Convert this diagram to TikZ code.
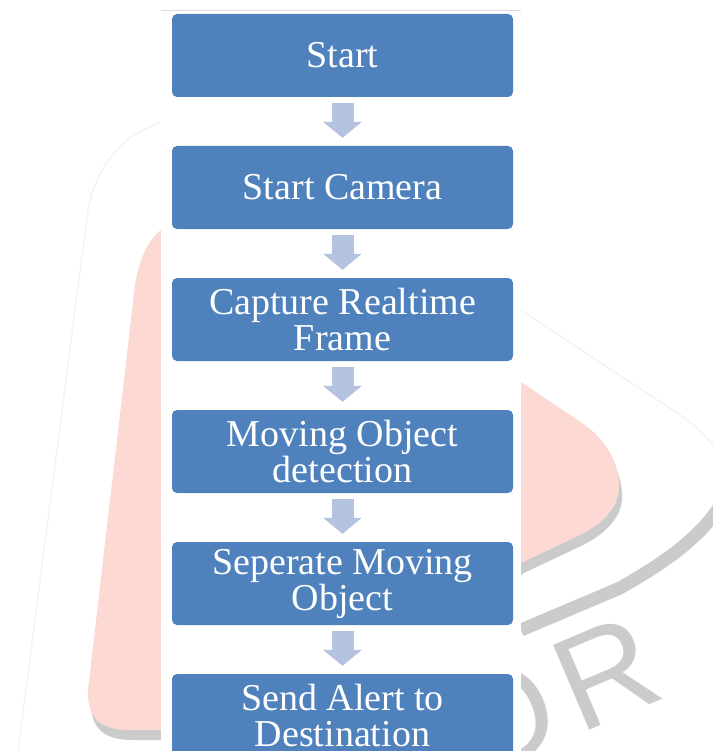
\documentclass[tikz,border=0pt]{standalone}
\usepackage{fontspec}
\setmainfont{Liberation Serif}
\newfontfamily\wmfont{Liberation Sans}
\usepackage{xcolor}
\usetikzlibrary{positioning, arrows.meta}

\definecolor{boxblue}{RGB}{79,129,189}
\definecolor{arrowblue}{RGB}{180,195,223}
\definecolor{wmpink}{RGB}{252,218,211}
\definecolor{wmgray}{RGB}{203,203,203}
\definecolor{wmfaint}{RGB}{241,241,241}

\begin{document}
\begin{tikzpicture}[
    x=1pt, y=-1pt,
    node distance=48.6pt,
    process/.style={
        rectangle, rounded corners=5pt,
        fill=boxblue, text=white,
        minimum width=341pt, minimum height=83pt,
        inner sep=0pt, align=center,
        font=\fontsize{38pt}{36pt}\selectfont
    },
    flow/.style={
        draw=arrowblue, line width=22pt,
        -{Triangle[length=16pt, width=38pt]}
    },
    watermark/.style={text=wmgray, font=\wmfont\fontsize{134pt}{134pt}\selectfont},
]
\useasboundingbox (0,0) rectangle (712,751);

% ---------- Watermark (behind the panel) ----------
\draw[wmfaint, line width=1.2pt] (160,123) .. controls (120,135) and (95,170) .. (88,210) -- (18,751);
\draw[wmfaint, line width=1.2pt] (521,310) -- (680,415) .. controls (705,432) and (715,445) .. (718,460);
\draw[wmgray, line width=13pt] (724,500) .. controls (700,540) and (660,565) .. (620,588) -- (521,630);

\fill[wmgray, shift={(3pt,-10pt)}] (521,382) -- (300,229) -- (162,229) .. controls (145,242) and (136,267) .. (133,302)
    -- (88,690) .. controls (87,718) and (100,730) .. (130,730) -- (300,730) -- (521,563)
    -- (580,535) .. controls (600,525) and (617,510) .. (619,490) .. controls (620,470) and (612,445) .. (585,425) -- cycle;
\fill[wmpink] (521,382) -- (300,229) -- (162,229) .. controls (145,242) and (136,267) .. (133,302)
    -- (88,690) .. controls (87,718) and (100,730) .. (130,730) -- (300,730) -- (521,563)
    -- (580,535) .. controls (600,525) and (617,510) .. (619,490) .. controls (620,470) and (612,445) .. (585,425) -- cycle;

\node[watermark, rotate=23] (wm) at (552,696) {O\kern14pt R};

% ---------- White panel ----------
\fill[white] (161,11) rectangle (521,760);
\draw[black!15, line width=1pt] (161,11) -- (521,11);

% ---------- Steps ----------
\node[process] (start) at (342.5,55.5) {Start};
\node[process, below=of start] (camera) {Start Camera};
\node[process, below=of camera] (capture) {Capture Realtime\\Frame};
\node[process, below=of capture] (detect) {Moving Object\\detection};
\node[process, below=of detect] (separate) {Seperate Moving\\Object};
\node[process, below=of separate] (alert) {Send Alert to\\Destination};

% ---------- Arrows ----------
\draw[flow] ([yshift=-6pt]start.south) -- ([yshift=8pt]camera.north);
\draw[flow] ([yshift=-6pt]camera.south) -- ([yshift=8pt]capture.north);
\draw[flow] ([yshift=-6pt]capture.south) -- ([yshift=8pt]detect.north);
\draw[flow] ([yshift=-6pt]detect.south) -- ([yshift=8pt]separate.north);
\draw[flow] ([yshift=-6pt]separate.south) -- ([yshift=8pt]alert.north);

\end{tikzpicture}
\end{document}
